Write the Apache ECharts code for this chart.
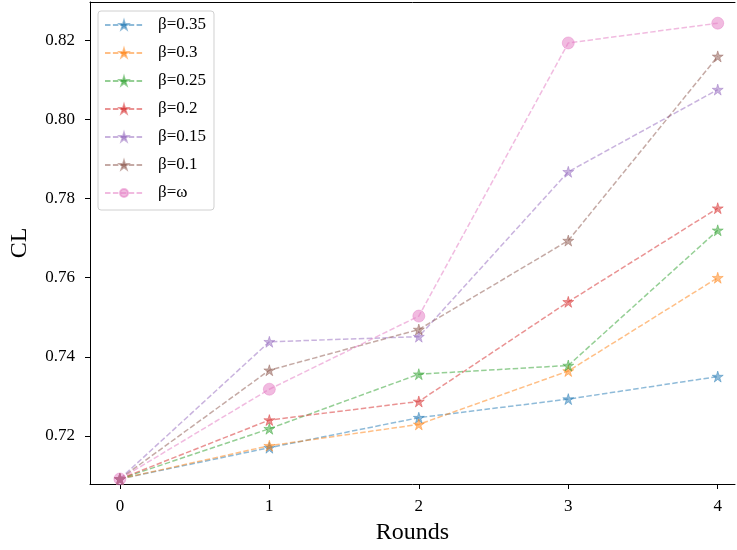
<!DOCTYPE html>
<html>
<head>
<meta charset="utf-8">
<script src="https://cdn.jsdelivr.net/npm/echarts@6/dist/echarts.min.js"></script>
<style>html,body{margin:0;padding:0;background:#fff;}#chart{width:737px;height:550px;}</style>
</head>
<body>
<div id="chart"></div>
<script>
var rounds = [0, 1, 2, 3, 4];
var seriesNames = ['β=0.35', 'β=0.3', 'β=0.25', 'β=0.2', 'β=0.15', 'β=0.1', 'β=ω'];
var b035 = [0.7091, 0.7170, 0.7246, 0.7293, 0.7350];
var b030 = [0.7091, 0.7175, 0.7229, 0.7364, 0.7600];
var b025 = [0.7091, 0.7218, 0.7356, 0.7378, 0.7720];
var b020 = [0.7091, 0.7240, 0.7287, 0.7539, 0.7776];
var b015 = [0.7091, 0.7438, 0.7451, 0.7868, 0.8076];
var b010 = [0.7091, 0.7366, 0.7469, 0.7694, 0.8160];
var bOmega = [0.7091, 0.7318, 0.7503, 0.8194, 0.8244];
var xTicks = [0, 1, 2, 3, 4];
var yTicks = [0.72, 0.74, 0.76, 0.78, 0.80, 0.82];
var colors = ['#1f77b4', '#ff7f0e', '#2ca02c', '#d62728', '#9467bd', '#8c564b', '#e377c2'];

var starPath = 'path://M100 0 L122.45 69.1 L195.1 69.1 L136.33 111.8 L158.8 180.9 L100 138.2 L41.2 180.9 L63.67 111.8 L4.9 69.1 L77.55 69.1 Z';
var allValues = [b035, b030, b025, b020, b015, b010, bOmega];
var font = 'Liberation Serif, Times New Roman, serif';

var series = allValues.map(function (vals, i) {
  var isCircle = i === 6;
  return {
    name: seriesNames[i],
    type: 'line',
    data: rounds.map(function (r, j) { return [r, vals[j]]; }),
    symbol: isCircle ? 'circle' : starPath,
    symbolSize: isCircle ? 12 : 11,
    showAllSymbol: true,
    lineStyle: { color: colors[i], width: 1.5, type: [5.5, 2.4], opacity: 0.5 },
    itemStyle: { color: colors[i], opacity: 0.5, borderColor: colors[i], borderWidth: 0.8 },
    emphasis: { disabled: true },
    animation: false
  };
});

var chart = echarts.init(document.getElementById('chart'), null, { renderer: 'canvas' });
chart.setOption({
  animation: false,
  backgroundColor: '#fff',
  color: colors,
  grid: { left: 88, top: 2, right: 2, bottom: 65, show: false },
  legend: {
    orient: 'vertical', left: 98, top: 11,
    padding: [4, 8, 7, 6],
    itemWidth: 38, itemHeight: 10, itemGap: 8,
    borderColor: '#d0d0d0', borderWidth: 1, borderRadius: 3,
    backgroundColor: 'rgba(255,255,255,0.8)',
    textStyle: { fontFamily: font, fontSize: 17, color: '#000', lineHeight: 20, padding: [0, 0, 0, 10] },
    data: seriesNames
  },
  xAxis: [{
    type: 'value', min: -0.2, max: 4.1155, position: 'bottom',
    name: 'Rounds', nameLocation: 'middle', nameGap: 37,
    nameTextStyle: { fontFamily: font, fontSize: 24, color: '#000' },
    axisLine: { show: true, onZero: false, lineStyle: { color: '#000', width: 1 } },
    axisTick: { show: true, length: 5, customValues: xTicks, lineStyle: { color: '#000' } },
    axisLabel: { customValues: xTicks, margin: 14, fontFamily: font, fontSize: 17, color: '#000', formatter: function (v) { return String(v); } },
    splitLine: { show: false }
  }, {
    type: 'value', min: -0.2, max: 4.1155, position: 'top',
    axisLine: { show: true, onZero: false, lineStyle: { color: '#000', width: 1 } },
    axisTick: { show: false }, axisLabel: { show: false }, splitLine: { show: false }
  }],
  yAxis: {
    type: 'value', min: 0.70782, max: 0.82976,
    name: 'CL', nameLocation: 'middle', nameGap: 58, nameRotate: 90,
    nameTextStyle: { fontFamily: font, fontSize: 24, color: '#000' },
    axisLine: { show: true, onZero: false, lineStyle: { color: '#000', width: 1 } },
    axisTick: { show: true, length: 5, customValues: yTicks, lineStyle: { color: '#000' } },
    axisLabel: { customValues: yTicks, margin: 15, fontFamily: font, fontSize: 17, color: '#000', formatter: function (v) { return v.toFixed(2); } },
    splitLine: { show: false }
  },
  series: series
});
</script>
</body>
</html>
